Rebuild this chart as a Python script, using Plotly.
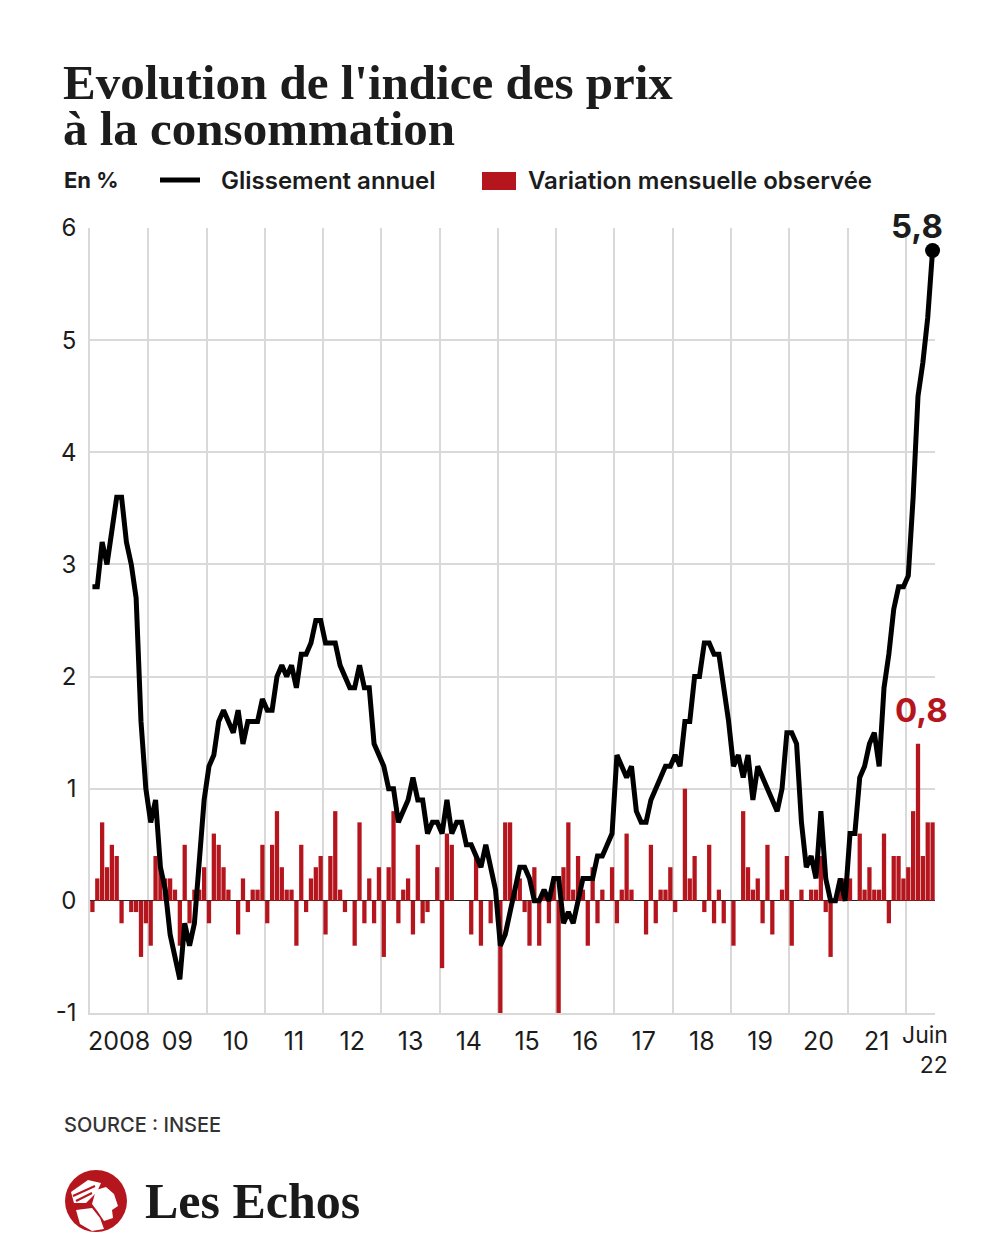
import plotly.graph_objects as go

# ---------------- DATA ----------------
months = [f"{y}-{m:02d}" for y in range(2008, 2023) for m in range(1, 13)][:174]

# Glissement annuel (%), janv. 2008 -> juin 2022
glissement_annuel = [
    2.8, 2.8, 3.2, 3.0, 3.3, 3.6, 3.6, 3.2, 3.0, 2.7, 1.6, 1.0,      # 2008
    0.7, 0.9, 0.3, 0.1, -0.3, -0.5, -0.7, -0.2, -0.4, -0.2, 0.4, 0.9,  # 2009
    1.2, 1.3, 1.6, 1.7, 1.6, 1.5, 1.7, 1.4, 1.6, 1.6, 1.6, 1.8,      # 2010
    1.7, 1.7, 2.0, 2.1, 2.0, 2.1, 1.9, 2.2, 2.2, 2.3, 2.5, 2.5,      # 2011
    2.3, 2.3, 2.3, 2.1, 2.0, 1.9, 1.9, 2.1, 1.9, 1.9, 1.4, 1.3,      # 2012
    1.2, 1.0, 1.0, 0.7, 0.8, 0.9, 1.1, 0.9, 0.9, 0.6, 0.7, 0.7,      # 2013
    0.6, 0.9, 0.6, 0.7, 0.7, 0.5, 0.5, 0.4, 0.3, 0.5, 0.3, 0.1,      # 2014
    -0.4, -0.3, -0.1, 0.1, 0.3, 0.3, 0.2, 0.0, 0.0, 0.1, 0.0, 0.2,   # 2015
    0.2, -0.2, -0.1, -0.2, 0.0, 0.2, 0.2, 0.2, 0.4, 0.4, 0.5, 0.6,   # 2016
    1.3, 1.2, 1.1, 1.2, 0.8, 0.7, 0.7, 0.9, 1.0, 1.1, 1.2, 1.2,      # 2017
    1.3, 1.2, 1.6, 1.6, 2.0, 2.0, 2.3, 2.3, 2.2, 2.2, 1.9, 1.6,      # 2018
    1.2, 1.3, 1.1, 1.3, 0.9, 1.2, 1.1, 1.0, 0.9, 0.8, 1.0, 1.5,      # 2019
    1.5, 1.4, 0.7, 0.3, 0.4, 0.2, 0.8, 0.2, 0.0, 0.0, 0.2, 0.0,      # 2020
    0.6, 0.6, 1.1, 1.2, 1.4, 1.5, 1.2, 1.9, 2.2, 2.6, 2.8, 2.8,      # 2021
    2.9, 3.6, 4.5, 4.8, 5.2, 5.8,                                    # 2022
]

# Variation mensuelle observée (%)
variation_mensuelle = [
    -0.1, 0.2, 0.7, 0.3, 0.5, 0.4, -0.2, 0.0, -0.1, -0.1, -0.5, -0.2,  # 2008
    -0.4, 0.4, 0.3, 0.2, 0.2, 0.1, -0.4, 0.5, -0.2, 0.1, 0.1, 0.3,     # 2009
    -0.2, 0.6, 0.5, 0.3, 0.1, 0.0, -0.3, 0.2, -0.1, 0.1, 0.1, 0.5,     # 2010
    -0.2, 0.5, 0.8, 0.3, 0.1, 0.1, -0.4, 0.5, -0.1, 0.2, 0.3, 0.4,     # 2011
    -0.3, 0.4, 0.8, 0.1, -0.1, 0.0, -0.4, 0.7, -0.2, 0.2, -0.2, 0.3,   # 2012
    -0.5, 0.3, 0.8, -0.2, 0.1, 0.2, -0.3, 0.5, -0.2, -0.1, 0.0, 0.3,   # 2013
    -0.6, 0.6, 0.5, 0.0, 0.0, 0.0, -0.3, 0.4, -0.4, 0.0, -0.2, 0.0,    # 2014
    -1.0, 0.7, 0.7, 0.1, 0.2, -0.1, -0.4, 0.3, -0.4, 0.1, -0.2, 0.2,   # 2015
    -1.0, 0.3, 0.7, 0.1, 0.4, 0.1, -0.4, 0.3, -0.2, 0.1, 0.0, 0.3,     # 2016
    -0.2, 0.1, 0.6, 0.1, 0.0, 0.0, -0.3, 0.5, -0.2, 0.1, 0.1, 0.3,     # 2017
    -0.1, 0.0, 1.0, 0.2, 0.4, 0.0, -0.1, 0.5, -0.2, 0.1, -0.2, 0.0,    # 2018
    -0.4, 0.0, 0.8, 0.3, 0.1, 0.2, -0.2, 0.5, -0.3, 0.0, 0.1, 0.4,     # 2019
    -0.4, 0.0, 0.1, 0.0, 0.1, 0.1, 0.4, -0.1, -0.5, 0.0, 0.2, 0.2,     # 2020
    0.2, 0.0, 0.6, 0.1, 0.3, 0.1, 0.1, 0.6, -0.2, 0.4, 0.4, 0.2,       # 2021
    0.3, 0.8, 1.4, 0.4, 0.7, 0.7,                                      # 2022
]

year_labels = ["2008", "09", "10", "11", "12", "13", "14", "15",
               "16", "17", "18", "19", "20", "21"]
y_ticks = [-1, 0, 1, 2, 3, 4, 5, 6]
y_tick_labels = ["-1", "0", "1", "2", "3", "4", "5", "6"]

# ---------------- LAYOUT HELPERS ----------------
W, H = 1000, 1250
L, R, T, B = 90, 65, 228, 237
PW, PH = W - L - R, H - T - B


def px(xp):
    return (xp - L) / PW


def py(yp):
    return (H - B - yp) / PH


RED = "#b5161d"
GRID = "#d9d9d9"
INK = "#1c1c1c"
SANS = "Inter"
SERIF = "Liberation Serif"

x = list(range(len(months)))

fig = go.Figure()
fig.add_bar(x=x, y=variation_mensuelle, marker=dict(color=RED, line=dict(width=0)),
            name="Variation mensuelle observée", customdata=months,
            hovertemplate="%{customdata}: %{y}<extra></extra>")
fig.add_scatter(x=x, y=glissement_annuel, mode="lines",
                line=dict(color="black", width=5),
                name="Glissement annuel", customdata=months,
                hovertemplate="%{customdata}: %{y}<extra></extra>")
fig.add_scatter(x=[x[-1]], y=[glissement_annuel[-1]], mode="markers",
                marker=dict(color="black", size=15), cliponaxis=False,
                hoverinfo="skip", showlegend=False)

n_years = len(year_labels)
fig.update_layout(
    width=W, height=H,
    margin=dict(l=L, r=R, t=T, b=B, pad=0),
    paper_bgcolor="white", plot_bgcolor="white",
    showlegend=False, bargap=0.12,
    xaxis=dict(
        range=[-0.5, len(months) - 0.5],
        tickmode="array",
        tickvals=[12 * k + 5.5 for k in range(n_years)],
        ticktext=year_labels,
        showgrid=False, zeroline=False,
        ticks="", ticklabelstandoff=5,
        tickfont=dict(family=SANS, size=25, color=INK),
        showline=True, linecolor=GRID, linewidth=1.5,
        minor=dict(tickmode="array",
                   tickvals=[12 * k - 0.5 for k in range(1, n_years + 1)],
                   showgrid=True, gridcolor=GRID, gridwidth=1.5, ticks=""),
    ),
    yaxis=dict(
        range=[-1, 6],
        tickmode="array", tickvals=y_ticks, ticktext=y_tick_labels,
        showgrid=True, gridcolor=GRID, gridwidth=1.5,
        zeroline=True, zerolinecolor="#222222", zerolinewidth=1.3,
        showline=True, linecolor=GRID, linewidth=1.5,
        ticks="", ticklabelstandoff=7,
        tickfont=dict(family=SANS, size=24, color=INK),
    ),
)

ann = []


def text(t, xp, yp, size, family=SANS, color=INK, weight=400, xanchor="left",
         yanchor="middle", align="left"):
    ann.append(dict(text=t, x=px(xp), y=py(yp), xref="paper", yref="paper",
                    showarrow=False, xanchor=xanchor, yanchor=yanchor, align=align,
                    font=dict(family=family, size=size, color=color, weight=weight)))


text("Evolution de l'indice des prix", 61, 82, 49, family=SERIF, weight=700)
text("à la consommation", 61, 128, 49, family=SERIF, weight=700)
text("En %", 62, 180, 22, weight=700)
text("Glissement annuel", 219, 180, 24, weight=600)
text("Variation mensuelle observée", 526, 180, 24, weight=600)
text("5,8", 917, 226, 33, weight=700, xanchor="center")
text("0,8", 921, 710, 33, weight=700, color=RED, xanchor="center")
text("Juin<br>22", 950, 1019, 23, xanchor="right", yanchor="top", align="right")
text("SOURCE : INSEE", 62, 1125, 20, color="#333333", weight=500)
text("Les Echos", 143, 1201, 50, family=SERIF, weight=700, color="#1a1a1a")
fig.update_layout(annotations=ann)


def path(points):
    return "M " + " L ".join(f"{px(a):.5f},{py(b):.5f}" for a, b in points) + " Z"


shapes = [
    dict(type="line", xref="paper", yref="paper", x0=px(160), x1=px(200),
         y0=py(180), y1=py(180), line=dict(color="black", width=5)),
    dict(type="rect", xref="paper", yref="paper", x0=px(482), x1=px(516),
         y0=py(190), y1=py(172), fillcolor=RED, line=dict(width=0)),
    # logo: red disc with simplified white winged head
    dict(type="circle", xref="paper", yref="paper", x0=px(65), x1=px(127),
         y0=py(1232), y1=py(1170), fillcolor=RED, line=dict(width=0)),
    dict(type="path", xref="paper", yref="paper",
         path=path([(71, 1192), (88, 1180), (101, 1183), (97, 1192), (86, 1203), (74, 1203)]),
         fillcolor="white", line=dict(width=0)),
    dict(type="line", xref="paper", yref="paper", x0=px(73), x1=px(95),
         y0=py(1196), y1=py(1186), line=dict(color=RED, width=2)),
    dict(type="line", xref="paper", yref="paper", x0=px(76), x1=px(92),
         y0=py(1201), y1=py(1193), line=dict(color=RED, width=2)),
    dict(type="path", xref="paper", yref="paper",
         path=path([(96, 1190), (106, 1187), (114, 1194), (118, 1206), (112, 1210),
                    (113, 1218), (104, 1221), (98, 1212), (92, 1204)]),
         fillcolor="white", line=dict(width=0)),
    dict(type="path", xref="paper", yref="paper",
         path=path([(76, 1210), (92, 1208), (100, 1218), (104, 1229), (92, 1231), (80, 1224)]),
         fillcolor="white", line=dict(width=0)),
]
fig.update_layout(shapes=shapes)

fig.write_html("out.html", config={"displayModeBar": False},
               post_script="document.body.style.margin='0';document.body.style.padding='0';")
